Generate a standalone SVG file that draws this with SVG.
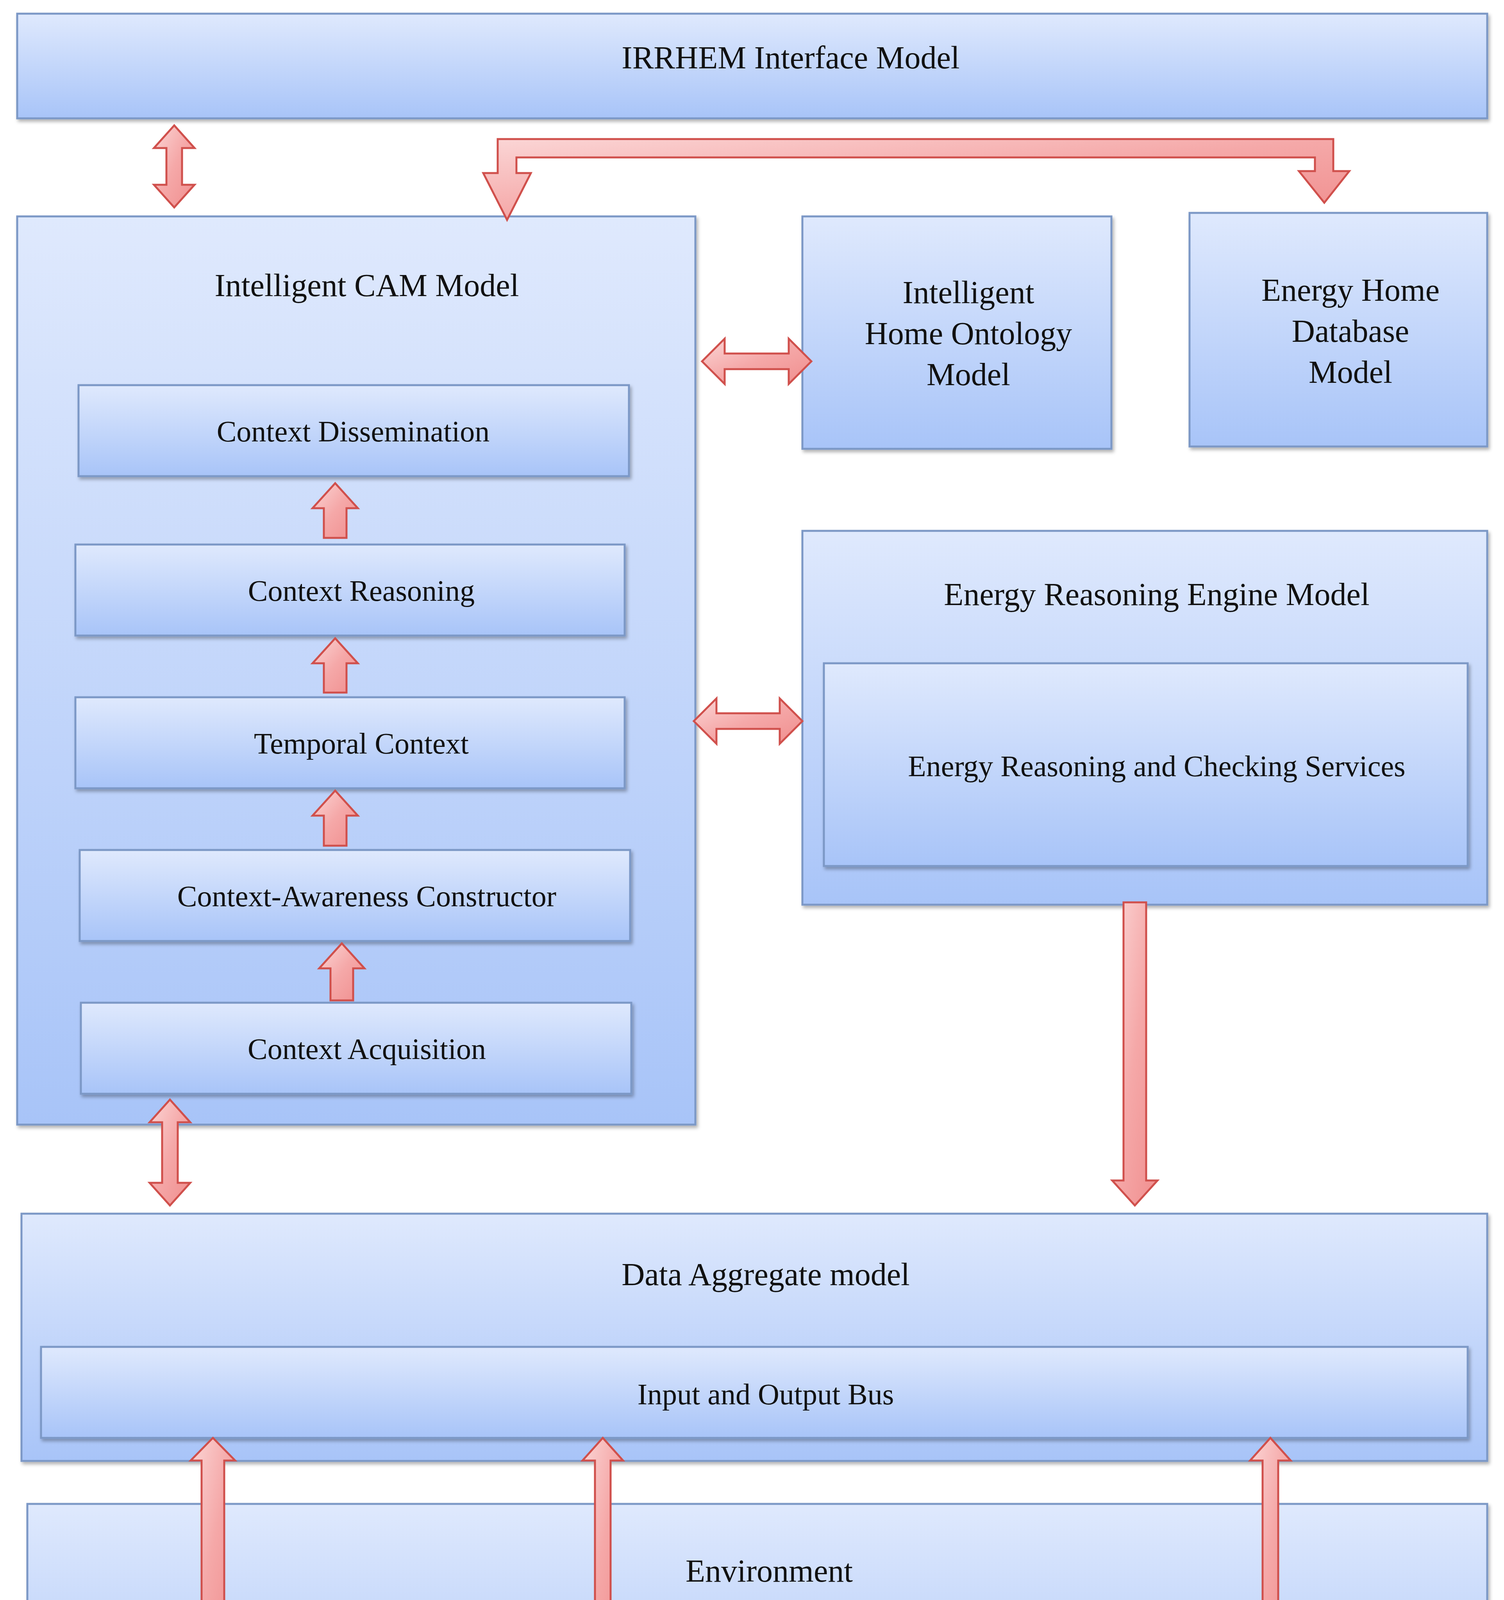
<svg xmlns="http://www.w3.org/2000/svg" width="3850" height="4581" viewBox="0 0 3850 4581">
<defs>
<linearGradient id="bx" x1="0" y1="0" x2="0" y2="1"><stop offset="0" stop-color="#dfe9fd"/><stop offset="1" stop-color="#a8c4f8"/></linearGradient>
<linearGradient id="ar" x1="0" y1="0" x2="1" y2="1"><stop offset="0" stop-color="#fbd6d6"/><stop offset="0.5" stop-color="#f5a8a8"/><stop offset="1" stop-color="#f08e8e"/></linearGradient>
<filter id="sh" x="-5%" y="-5%" width="110%" height="115%"><feDropShadow dx="4" dy="6" stdDeviation="4" flood-color="#000" flood-opacity="0.3"/></filter>
</defs>
<style>
.b{fill:url(#bx);stroke:#7b98c6;stroke-width:5;filter:url(#sh)}
.a{fill:url(#ar);stroke:#d0504c;stroke-width:5;stroke-linejoin:miter}
text{font-family:"Liberation Serif","Times New Roman",serif;fill:#111;text-anchor:middle}
.t{font-size:82px}.s{font-size:76px}
</style>
<rect width="3850" height="4581" fill="#fff"/>
<g id="irrhem"><rect class="b" x="44" y="35" width="3763" height="268"/><text class="t" x="2024" y="175">IRRHEM Interface Model</text></g>
<g id="cam"><rect class="b" x="44" y="554" width="1736" height="2325"/><text class="t" x="939" y="758">Intelligent CAM Model</text></g>
<g id="ontology"><rect class="b" x="2054" y="554" width="791" height="595"/><text class="t" x="2479" y="776">Intelligent</text><text class="t" x="2479" y="881">Home Ontology</text><text class="t" x="2479" y="986">Model</text></g>
<g id="db"><rect class="b" x="3045" y="545" width="762" height="598"/><text class="t" x="3457" y="770">Energy Home</text><text class="t" x="3457" y="875">Database</text><text class="t" x="3457" y="980">Model</text></g>
<g id="dissem"><rect class="b" x="201" y="986" width="1409" height="233"/><text class="s" x="904" y="1130">Context Dissemination</text></g>
<g id="reason"><rect class="b" x="193" y="1394" width="1406" height="233"/><text class="s" x="925" y="1538">Context Reasoning</text></g>
<g id="temporal"><rect class="b" x="193" y="1785" width="1406" height="233"/><text class="s" x="925" y="1929">Temporal Context</text></g>
<g id="cac"><rect class="b" x="204" y="2176" width="1409" height="233"/><text class="s" x="939" y="2320">Context-Awareness Constructor</text></g>
<g id="acq"><rect class="b" x="207" y="2567" width="1409" height="233"/><text class="s" x="939" y="2711">Context Acquisition</text></g>
<g id="ere"><rect class="b" x="2054" y="1359" width="1753" height="957"/><text class="t" x="2961" y="1549">Energy Reasoning Engine Model</text></g>
<g id="ercs"><rect class="b" x="2109" y="1698" width="1648" height="519"/><text class="s" x="2961" y="1987">Energy Reasoning and Checking Services</text></g>
<g id="agg"><rect class="b" x="55" y="3107" width="3752" height="633"/><text class="t" x="1960" y="3290">Data Aggregate model</text></g>
<g id="bus"><rect class="b" x="105" y="3448" width="3652" height="233"/><text class="s" x="1960" y="3595">Input and Output Bus</text></g>
<g id="env"><rect class="b" x="70" y="3850" width="3737" height="671"/><text class="t" x="1969" y="4049">Environment</text></g>
<g id="sensors"><rect class="b" x="140" y="4238" width="1065" height="233"/><text class="s" x="703" y="4385">Sensors Network</text></g>
<g id="equip"><rect class="b" x="1412" y="4247" width="1065" height="233"/><text class="s" x="1972" y="4394">Equipment’s</text></g>
<g id="act"><rect class="b" x="2684" y="4238" width="1068" height="233"/><text class="s" x="3247" y="4385">Actuators Network</text></g>
<g id="connectors">
<polygon class="a" points="446,321 498,379 466,379 466,473 498,473 446,531 394,473 426,473 426,379 394,379"/>
<path class="a" d="M1274,443 L1274,356 L3413,356 L3413,438 L3454,438 L3390,519 L3325,438 L3366,438 L3366,403 L1322,403 L1322,443 L1359,443 L1298,563 L1237,443 Z"/>
<polygon class="a" points="1797,925 1855,867 1855,905 2019,905 2019,867 2077,925 2019,983 2019,945 1855,945 1855,983"/>
<polygon class="a" points="1776,1846 1834,1788 1834,1826 1996,1826 1996,1788 2054,1846 1996,1904 1996,1866 1834,1866 1834,1904"/>
<polygon class="a" points="858,1237 916,1301 887,1301 887,1377 829,1377 829,1301 800,1301"/>
<polygon class="a" points="858,1634 916,1698 887,1698 887,1773 829,1773 829,1698 800,1698"/>
<polygon class="a" points="858,2024 916,2088 887,2088 887,2165 829,2165 829,2088 800,2088"/>
<polygon class="a" points="875,2415 933,2479 904,2479 904,2561 846,2561 846,2479 817,2479"/>
<polygon class="a" points="435,2815 487,2873 455,2873 455,3028 487,3028 435,3086 383,3028 415,3028 415,2873 383,2873"/>
<polygon class="a" points="2876,2310 2934,2310 2934,3022 2963,3022 2905,3086 2847,3022 2876,3022"/>
<polygon class="a" points="545,3681 602,3739 574,3739 574,4236 516,4236 516,3739 488,3739"/>
<polygon class="a" points="1543,3681 1595,3739 1563,3739 1563,4178 1595,4178 1543,4236 1491,4178 1523,4178 1523,3739 1491,3739"/>
<polygon class="a" points="3252,3681 3304,3739 3272,3739 3272,4178 3304,4178 3252,4236 3200,4178 3232,4178 3232,3739 3200,3739"/>
</g>
</svg>
